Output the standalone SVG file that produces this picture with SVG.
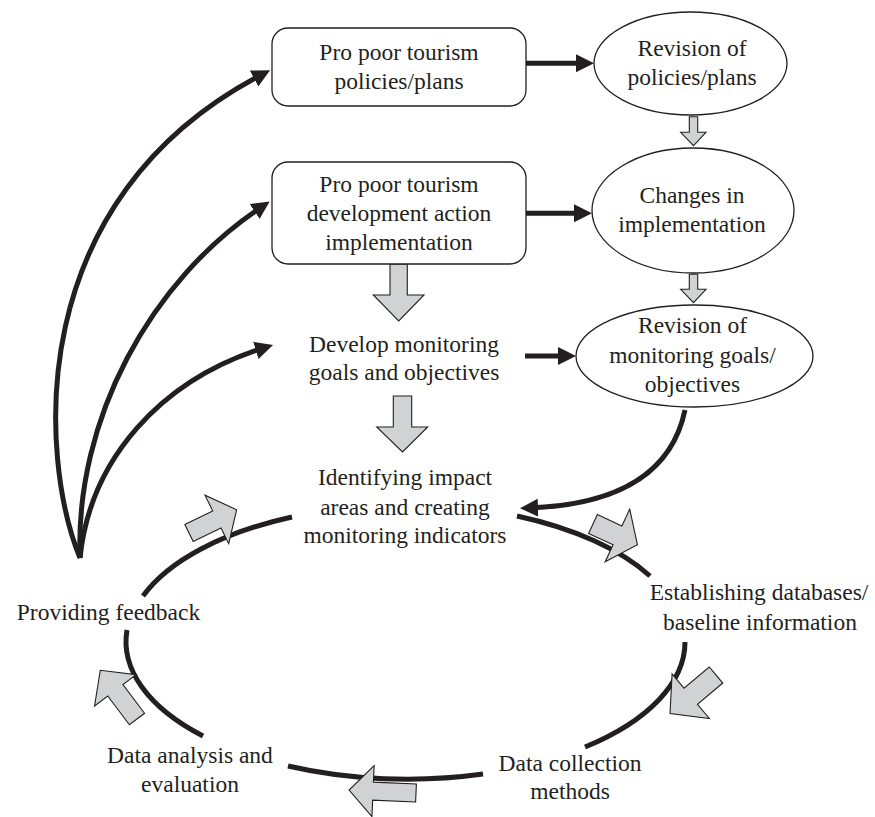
<svg xmlns="http://www.w3.org/2000/svg" width="875" height="817" viewBox="0 0 875 817">
  <style>
    text { font-family: "Liberation Serif", "Times New Roman", serif; font-size: 23.5px; fill: #231f20; text-anchor: middle; }
    .box { fill: #ffffff; stroke: #231f20; stroke-width: 1.3; }
    .link { fill: none; stroke: #231f20; stroke-width: 5; }
    .cycle { fill: none; stroke: #231f20; stroke-width: 5; }
    .block { fill: #d1d2d4; stroke: #231f20; stroke-width: 1.1; stroke-linejoin: miter; }
  </style>
  <defs>
    <marker id="head" markerUnits="userSpaceOnUse" markerWidth="20" markerHeight="20" viewBox="0 -10 20 20" refX="10" refY="0" orient="auto">
      <path d="M0,-9 L18,0 L0,9 z" fill="#231f20"/>
    </marker>
  </defs>

  <rect width="875" height="817" fill="#ffffff"/>

  <!-- monitoring cycle -->
  <g id="cycle">
    <path class="cycle" d="M143,596 A279,137 0 0 1 292,517"/>
    <path class="cycle" d="M517,516 A279,137 0 0 1 650,576"/>
    <path class="cycle" d="M685,642 A279,137 0 0 1 585,747"/>
    <path class="cycle" d="M483,774 A279,137 0 0 1 288,766"/>
    <path class="cycle" d="M203,736 A279,137 0 0 1 127,630"/>
  </g>

  <!-- connectors -->
  <g id="connectors">
    <line class="link" x1="526" y1="63.3" x2="586" y2="63.3" marker-end="url(#head)"/>
    <line class="link" x1="526" y1="213.3" x2="584" y2="213.3" marker-end="url(#head)"/>
    <line class="link" x1="525" y1="356" x2="568" y2="356" marker-end="url(#head)"/>
    <path class="link" d="M80,558 C40,460 20,200 263,74" marker-end="url(#head)"/>
    <path class="link" d="M80,558 C75,420 150,280 263,206" marker-end="url(#head)"/>
    <path class="link" d="M80,558 C90,460 160,380 265.4,347.4" marker-end="url(#head)"/>
    <path class="link" d="M685,410 C672,472 620,505 528,508" marker-end="url(#head)"/>

    <!-- hollow block arrows -->
    <polygon class="block" points="390,264 407.3,264 407.3,295 424,295 398.7,321 373.3,295 390,295"/>
    <polygon class="block" points="393.3,396 411.7,396 411.7,427 427.7,427 402.5,452 376.7,427 393.3,427"/>
    <polygon class="block" points="689.3,116.7 697.7,116.7 697.7,132.3 706,132.3 693.5,145.7 680.7,132.3 689.3,132.3"/>
    <polygon class="block" points="689.3,274.3 697.7,274.3 697.7,289.3 706,289.3 693.5,302.7 680.7,289.3 689.3,289.3"/>

    <polygon class="block" transform="translate(189,533) rotate(-26)" points="0,-9.5 31,-9.5 31,-27 53,0 31,27 31,9.5 0,9.5"/>
    <polygon class="block" transform="translate(593,524) rotate(25)" points="0,-10.4 27,-10.4 27,-29 49,0 27,29 27,10.4 0,10.4"/>
    <polygon class="block" transform="translate(716,675) rotate(140)" points="0,-10.5 33,-10.5 33,-29 60,0 33,29 33,10.5 0,10.5"/>
    <polygon class="block" transform="translate(416,793) rotate(182.5)" points="0,-9 43,-9 43,-25.5 67,0 43,25.5 43,9 0,9"/>
    <polygon class="block" transform="translate(137,719) rotate(233)" points="0,-9.5 36,-9.5 36,-26 61,0 36,26 36,9.5 0,9.5"/>
  </g>

  <!-- nodes -->
  <g id="n-policies">
    <rect class="box" x="272" y="28" width="254" height="78" rx="16"/>
    <text x="399" y="60">Pro poor tourism</text>
    <text x="399" y="89">policies/plans</text>
  </g>

  <g id="n-revision-policies">
    <ellipse class="box" cx="690.5" cy="63.5" rx="96.5" ry="51.5"/>
    <text x="692" y="56">Revision of</text>
    <text x="692" y="85">policies/plans</text>
  </g>

  <g id="n-implementation">
    <rect class="box" x="272" y="162" width="254" height="102" rx="16"/>
    <text x="399" y="192">Pro poor tourism</text>
    <text x="399" y="221">development action</text>
    <text x="399" y="250">implementation</text>
  </g>

  <g id="n-changes">
    <ellipse class="box" cx="693" cy="210.5" rx="101" ry="62.5"/>
    <text x="692" y="203">Changes in</text>
    <text x="692" y="232">implementation</text>
  </g>

  <g id="n-develop">
    <text x="404" y="352">Develop monitoring</text>
    <text x="404" y="380">goals and objectives</text>
  </g>

  <g id="n-revision-goals">
    <ellipse class="box" cx="694.5" cy="356" rx="118.5" ry="51"/>
    <text x="692.5" y="333">Revision of</text>
    <text x="692.5" y="363">monitoring goals/</text>
    <text x="692.5" y="392">objectives</text>
  </g>

  <g id="n-identifying">
    <text x="405" y="485">Identifying impact</text>
    <text x="405" y="515">areas and creating</text>
    <text x="405" y="543">monitoring indicators</text>
  </g>

  <g id="n-establishing">
    <text x="759" y="600">Establishing databases/</text>
    <text x="760" y="630">baseline information</text>
  </g>

  <g id="n-collection">
    <text x="570" y="771">Data collection</text>
    <text x="570" y="799">methods</text>
  </g>

  <g id="n-analysis">
    <text x="190" y="763">Data analysis and</text>
    <text x="190" y="792">evaluation</text>
  </g>

  <g id="n-feedback">
    <text x="108.5" y="620">Providing feedback</text>
  </g>
</svg>
